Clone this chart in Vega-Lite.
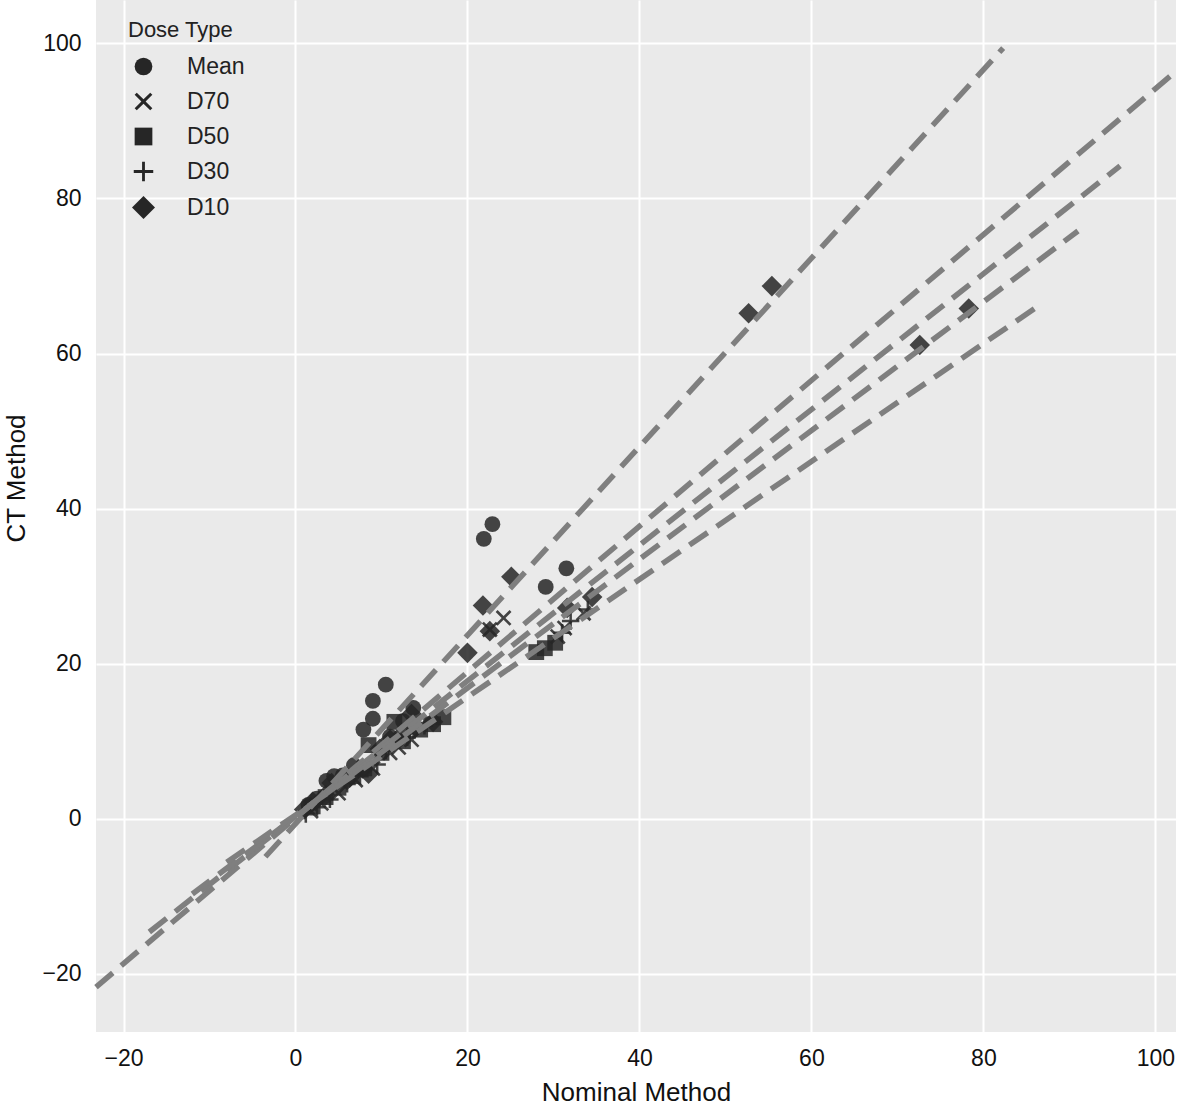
{
  "$schema": "https://vega.github.io/schema/vega-lite/v6.json",
  "width": 1080,
  "height": 1032,
  "autosize": "none",
  "padding": {"left": 96, "top": 0, "right": 4, "bottom": 73},
  "background": "white",
  "config": {
    "view": {"fill": "#EAEAEA", "stroke": null},
    "font": "Liberation Sans",
    "axis": {
      "domain": false, "ticks": false, "tickSize": 0, "grid": true, "gridColor": "white", "gridWidth": 2,
      "labelFont": "Liberation Sans", "labelFontSize": 23, "labelColor": "#111", "labelPadding": 15,
      "titleFont": "Liberation Sans", "titleFontSize": 26, "titleFontWeight": "normal", "titleColor": "#111"
    }
  },
  "datasets": {
    "pts": [
      {"dose": "Mean", "x": 22.9, "y": 38.0}, {"dose": "Mean", "x": 21.9, "y": 36.1}, {"dose": "Mean", "x": 31.5, "y": 32.3},
      {"dose": "Mean", "x": 29.1, "y": 29.9}, {"dose": "Mean", "x": 10.5, "y": 17.3}, {"dose": "Mean", "x": 9.0, "y": 15.2},
      {"dose": "Mean", "x": 9.0, "y": 12.9}, {"dose": "Mean", "x": 7.9, "y": 11.5}, {"dose": "Mean", "x": 13.7, "y": 14.3},
      {"dose": "Mean", "x": 12.5, "y": 12.6}, {"dose": "Mean", "x": 4.5, "y": 5.5}, {"dose": "Mean", "x": 3.6, "y": 4.9},
      {"dose": "Mean", "x": 5.5, "y": 5.6}, {"dose": "Mean", "x": 2.5, "y": 2.6}, {"dose": "Mean", "x": 6.8, "y": 6.9},
      {"dose": "Mean", "x": 11.0, "y": 10.6}, {"dose": "Mean", "x": 1.5, "y": 1.8},
      {"dose": "D70", "x": 24.2, "y": 25.9}, {"dose": "D70", "x": 22.6, "y": 24.4}, {"dose": "D70", "x": 33.5, "y": 26.5},
      {"dose": "D70", "x": 31.3, "y": 24.6}, {"dose": "D70", "x": 12.0, "y": 9.2}, {"dose": "D70", "x": 11.0, "y": 8.5},
      {"dose": "D70", "x": 7.0, "y": 5.0}, {"dose": "D70", "x": 5.0, "y": 3.3}, {"dose": "D70", "x": 3.0, "y": 2.0},
      {"dose": "D70", "x": 1.8, "y": 1.0}, {"dose": "D70", "x": 9.0, "y": 6.5}, {"dose": "D70", "x": 13.5, "y": 10.2},
      {"dose": "D70", "x": 30.5, "y": 23.5},
      {"dose": "D50", "x": 28.0, "y": 21.5}, {"dose": "D50", "x": 30.2, "y": 22.7}, {"dose": "D50", "x": 17.2, "y": 13.1},
      {"dose": "D50", "x": 14.5, "y": 11.5}, {"dose": "D50", "x": 12.5, "y": 10.0}, {"dose": "D50", "x": 10.0, "y": 8.5},
      {"dose": "D50", "x": 8.0, "y": 6.5}, {"dose": "D50", "x": 6.5, "y": 5.5}, {"dose": "D50", "x": 5.0, "y": 4.0},
      {"dose": "D50", "x": 3.5, "y": 2.8}, {"dose": "D50", "x": 2.0, "y": 1.6}, {"dose": "D50", "x": 8.5, "y": 9.5},
      {"dose": "D50", "x": 11.5, "y": 12.5}, {"dose": "D50", "x": 16.0, "y": 12.2}, {"dose": "D50", "x": 29.0, "y": 22.0},
      {"dose": "D30", "x": 32.0, "y": 25.5}, {"dose": "D30", "x": 31.0, "y": 24.0}, {"dose": "D30", "x": 15.0, "y": 12.0},
      {"dose": "D30", "x": 13.0, "y": 10.5}, {"dose": "D30", "x": 10.5, "y": 8.8}, {"dose": "D30", "x": 7.5, "y": 5.5},
      {"dose": "D30", "x": 6.0, "y": 4.5}, {"dose": "D30", "x": 4.0, "y": 2.5}, {"dose": "D30", "x": 2.5, "y": 1.5},
      {"dose": "D30", "x": 1.2, "y": 0.6}, {"dose": "D30", "x": 9.5, "y": 7.0}, {"dose": "D30", "x": 34.0, "y": 27.0},
      {"dose": "D10", "x": 55.4, "y": 68.7}, {"dose": "D10", "x": 52.7, "y": 65.2}, {"dose": "D10", "x": 78.3, "y": 65.8},
      {"dose": "D10", "x": 72.6, "y": 61.1}, {"dose": "D10", "x": 25.1, "y": 31.2}, {"dose": "D10", "x": 21.8, "y": 27.5},
      {"dose": "D10", "x": 22.6, "y": 24.2}, {"dose": "D10", "x": 20.0, "y": 21.4}, {"dose": "D10", "x": 34.5, "y": 28.6},
      {"dose": "D10", "x": 31.6, "y": 27.2}, {"dose": "D10", "x": 14.0, "y": 11.8}, {"dose": "D10", "x": 12.5, "y": 11.0},
      {"dose": "D10", "x": 11.0, "y": 10.2}, {"dose": "D10", "x": 9.8, "y": 9.0}, {"dose": "D10", "x": 7.8, "y": 6.5},
      {"dose": "D10", "x": 6.0, "y": 5.0}, {"dose": "D10", "x": 4.2, "y": 4.6}, {"dose": "D10", "x": 3.5, "y": 3.0},
      {"dose": "D10", "x": 2.0, "y": 2.2}, {"dose": "D10", "x": 1.0, "y": 1.2}, {"dose": "D10", "x": 8.5, "y": 5.8},
      {"dose": "D10", "x": 16.0, "y": 12.5}, {"dose": "D10", "x": 13.5, "y": 13.5}
    ],
    "lines": [
      {"fit": "L1", "x": -3.5, "y": -4.9}, {"fit": "L1", "x": 82.3, "y": 99.4},
      {"fit": "L2", "x": -23.2, "y": -21.7}, {"fit": "L2", "x": 102.4, "y": 96.4},
      {"fit": "L3", "x": -17.0, "y": -14.6}, {"fit": "L3", "x": 95.9, "y": 84.2},
      {"fit": "L4", "x": -12.0, "y": -9.7}, {"fit": "L4", "x": 91.0, "y": 75.8},
      {"fit": "L5", "x": -8.0, "y": -5.6}, {"fit": "L5", "x": 86.6, "y": 66.3}
    ]
  },
  "layer": [
    {
      "data": {"name": "pts"},
      "mark": {"type": "point", "filled": true, "color": "#262626", "opacity": 0.85, "strokeWidth": 0, "size": 250},
      "encoding": {
        "x": {"field": "x", "type": "quantitative", "scale": {"domain": [-23.2, 102.4], "nice": false, "zero": false},
              "axis": {"values": [-20, 0, 20, 40, 60, 80, 100], "title": "Nominal Method", "titleY": 68, "titleBaseline": "alphabetic"}},
        "y": {"field": "y", "type": "quantitative", "scale": {"domain": [-27.5, 105.6], "nice": false, "zero": false},
              "axis": {"values": [-20, 0, 20, 40, 60, 80, 100], "title": "CT Method", "titleX": -72, "titleY": 478, "titleAngle": -90, "titleAlign": "center", "titleBaseline": "alphabetic"}},
        "shape": {"field": "dose", "type": "nominal",
          "scale": {"domain": ["Mean", "D70", "D50", "D30", "D10"],
                    "range": ["circle",
                              "M-1,-0.76L-0.76,-1L0,-0.24L0.76,-1L1,-0.76L0.24,0L1,0.76L0.76,1L0,0.24L-0.76,1L-1,0.76L-0.24,0Z",
                              "M-1,-1L1,-1L1,1L-1,1Z",
                              "M-1.1,-0.16L-0.16,-0.16L-0.16,-1.1L0.16,-1.1L0.16,-0.16L1.1,-0.16L1.1,0.16L0.16,0.16L0.16,1.1L-0.16,1.1L-0.16,0.16L-1.1,0.16Z",
                              "M0,-1.3L1.3,0L0,1.3L-1.3,0Z"]},
          "legend": {"title": "Dose Type", "orient": "none", "legendX": 32, "legendY": 20, "padding": 0,
                     "titleFont": "Liberation Sans", "titleFontSize": 22, "titleFontWeight": "normal", "titleColor": "#222", "titlePadding": 13,
                     "labelFont": "Liberation Sans", "labelFontSize": 23, "labelColor": "#222", "labelOffset": 32,
                     "symbolSize": 314, "symbolFillColor": "#2a2a2a", "symbolStrokeWidth": 0, "symbolOpacity": 1, "symbolOffset": 4,
                     "rowPadding": 11}}
      }
    },
    {
      "data": {"name": "lines"},
      "mark": {"type": "line", "color": "#7f7f7f", "strokeWidth": 5.5, "strokeDash": [22, 11], "strokeCap": "butt"},
      "encoding": {
        "x": {"field": "x", "type": "quantitative"},
        "y": {"field": "y", "type": "quantitative"},
        "detail": {"field": "fit", "type": "nominal"}
      }
    }
  ]
}
